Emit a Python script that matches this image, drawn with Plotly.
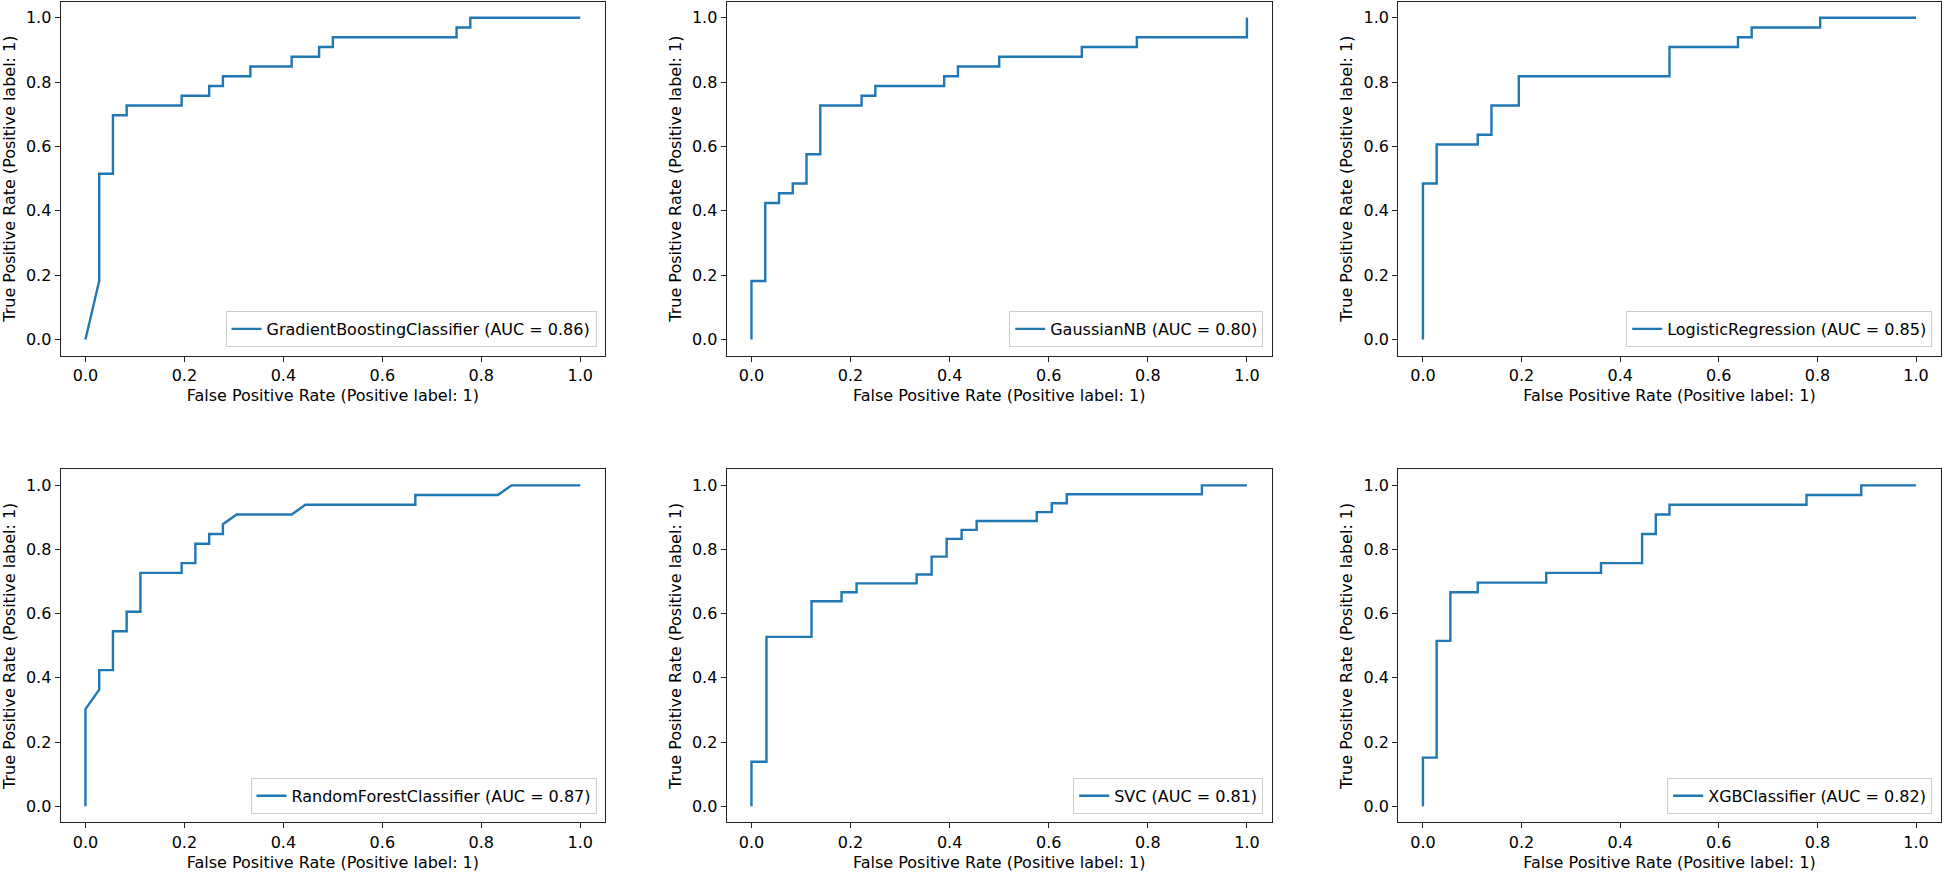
import plotly.graph_objects as go

# ---- data ----
model_names = ["GradientBoostingClassifier", "GaussianNB", "LogisticRegression",
               "RandomForestClassifier", "SVC", "XGBClassifier"]
auc_values = ["0.86", "0.80", "0.85", "0.87", "0.81", "0.82"]

gb_fpr = [0.0, 0.0278, 0.0278, 0.0556, 0.0556, 0.0833, 0.0833, 0.1944, 0.1944, 0.25, 0.25,
          0.2778, 0.2778, 0.3333, 0.3333, 0.4167, 0.4167, 0.4722, 0.4722, 0.5, 0.5,
          0.75, 0.75, 0.7778, 0.7778, 1.0]
gb_tpr = [0.0, 0.1818, 0.5152, 0.5152, 0.6970, 0.6970, 0.7273, 0.7273, 0.7576, 0.7576, 0.7879,
          0.7879, 0.8182, 0.8182, 0.8485, 0.8485, 0.8788, 0.8788, 0.9091, 0.9091, 0.9394,
          0.9394, 0.9697, 0.9697, 1.0, 1.0]

nb_fpr = [0.0, 0.0, 0.0278, 0.0278, 0.0556, 0.0556, 0.0833, 0.0833, 0.1111, 0.1111, 0.1389,
          0.1389, 0.2222, 0.2222, 0.25, 0.25, 0.3889, 0.3889, 0.4167, 0.4167, 0.5, 0.5,
          0.6667, 0.6667, 0.7778, 0.7778, 1.0, 1.0]
nb_tpr = [0.0, 0.1818, 0.1818, 0.4242, 0.4242, 0.4545, 0.4545, 0.4848, 0.4848, 0.5758, 0.5758,
          0.7273, 0.7273, 0.7576, 0.7576, 0.7879, 0.7879, 0.8182, 0.8182, 0.8485, 0.8485,
          0.8788, 0.8788, 0.9091, 0.9091, 0.9394, 0.9394, 1.0]

lr_fpr = [0.0, 0.0, 0.0278, 0.0278, 0.1111, 0.1111, 0.1389, 0.1389, 0.1944, 0.1944, 0.5, 0.5,
          0.6389, 0.6389, 0.6667, 0.6667, 0.8056, 0.8056, 1.0]
lr_tpr = [0.0, 0.4848, 0.4848, 0.6061, 0.6061, 0.6364, 0.6364, 0.7273, 0.7273, 0.8182, 0.8182,
          0.9091, 0.9091, 0.9394, 0.9394, 0.9697, 0.9697, 1.0, 1.0]

rf_fpr = [0.0, 0.0, 0.0278, 0.0278, 0.0556, 0.0556, 0.0833, 0.0833, 0.1111, 0.1111, 0.1944,
          0.1944, 0.2222, 0.2222, 0.25, 0.25, 0.2778, 0.2778, 0.3056, 0.4167, 0.4444, 0.6667,
          0.6667, 0.8333, 0.8611, 1.0]
rf_tpr = [0.0, 0.3030, 0.3636, 0.4242, 0.4242, 0.5455, 0.5455, 0.6061, 0.6061, 0.7273, 0.7273,
          0.7576, 0.7576, 0.8182, 0.8182, 0.8485, 0.8485, 0.8788, 0.9091, 0.9091, 0.9394, 0.9394,
          0.9697, 0.9697, 1.0, 1.0]

svc_fpr = [0.0, 0.0, 0.0303, 0.0303, 0.1212, 0.1212, 0.1818, 0.1818, 0.2121, 0.2121, 0.3333,
           0.3333, 0.3636, 0.3636, 0.3939, 0.3939, 0.4242, 0.4242, 0.4545, 0.4545, 0.5758,
           0.5758, 0.6061, 0.6061, 0.6364, 0.6364, 0.9091, 0.9091, 1.0]
svc_tpr = [0.0, 0.1389, 0.1389, 0.5278, 0.5278, 0.6389, 0.6389, 0.6667, 0.6667, 0.6944, 0.6944,
           0.7222, 0.7222, 0.7778, 0.7778, 0.8333, 0.8333, 0.8611, 0.8611, 0.8889, 0.8889,
           0.9167, 0.9167, 0.9444, 0.9444, 0.9722, 0.9722, 1.0, 1.0]

xgb_fpr = [0.0, 0.0, 0.0278, 0.0278, 0.0556, 0.0556, 0.1111, 0.1111, 0.25, 0.25, 0.3611, 0.3611,
           0.4444, 0.4444, 0.4722, 0.4722, 0.5, 0.5, 0.7778, 0.7778, 0.8889, 0.8889, 1.0]
xgb_tpr = [0.0, 0.1515, 0.1515, 0.5152, 0.5152, 0.6667, 0.6667, 0.6970, 0.6970, 0.7273, 0.7273,
           0.7576, 0.7576, 0.8485, 0.8485, 0.9091, 0.9091, 0.9394, 0.9394, 0.9697, 0.9697, 1.0, 1.0]

fpr_list = [gb_fpr, nb_fpr, lr_fpr, rf_fpr, svc_fpr, xgb_fpr]
tpr_list = [gb_tpr, nb_tpr, lr_tpr, rf_tpr, svc_tpr, xgb_tpr]

tick_vals = [0.0, 0.2, 0.4, 0.6, 0.8, 1.0]
x_title = "False Positive Rate (Positive label: 1)"
y_title = "True Positive Rate (Positive label: 1)"

# ---- layout geometry (pixels) ----
W, H = 1944, 873
col_px = [(60.7, 605.0), (726.7, 1271.7), (1398.3, 1940.7)]
row_px = [(1.7, 355.5), (469.3, 822.3)]

FONT = "DejaVu Sans"
BLUE = "#1f77b4"

fig = go.Figure()
layout = dict(
    width=W, height=H,
    margin=dict(l=0, r=0, t=0, b=0),
    paper_bgcolor="white", plot_bgcolor="white",
    font=dict(family=FONT, size=16, color="black"),
    showlegend=True,
)

for i in range(6):
    r, c = divmod(i, 3)
    x0, x1 = col_px[c]
    y0, y1 = row_px[r]
    idx = "" if i == 0 else str(i + 1)
    xa, ya = "x" + idx, "y" + idx
    leg = "legend" + idx
    fig.add_trace(go.Scatter(
        x=fpr_list[i], y=tpr_list[i], mode="lines",
        line=dict(color=BLUE, width=2.4),
        name=f"{model_names[i]} (AUC = {auc_values[i]})",
        xaxis=xa, yaxis=ya, legend=leg, showlegend=True,
        hoverinfo="skip",
    ))
    common = dict(
        range=[-0.05, 1.05], tickvals=tick_vals, tickformat=".1f",
        showgrid=False, zeroline=False,
        showline=True, linecolor="#222222", linewidth=1.2, mirror=True,
        ticks="outside", ticklen=5, tickwidth=1.2, tickcolor="#222222",
        tickfont=dict(family=FONT, size=16, color="black"),
        fixedrange=True,
    )
    layout["xaxis" + idx] = dict(
        common, domain=[x0 / W, x1 / W], anchor=ya,
        title=dict(text=x_title, font=dict(family=FONT, size=16, color="black"), standoff=6),
    )
    layout["yaxis" + idx] = dict(
        common, domain=[1 - y1 / H, 1 - y0 / H], anchor=xa,
        title=dict(text=y_title, font=dict(family=FONT, size=16, color="black"), standoff=6),
    )
    layout[leg] = dict(
        x=(x1 - 8.5) / W, y=1 - (y1 - 8.5) / H, xanchor="right", yanchor="bottom",
        xref="paper", yref="paper",
        bgcolor="rgba(255,255,255,0.8)", bordercolor="#cccccc", borderwidth=1,
        font=dict(family=FONT, size=16, color="black"),
        itemwidth=30,
    )

fig.update_layout(**layout)
fig.write_html(
    "out.html",
    config={"displayModeBar": False},
    post_script="document.body.style.margin='0';document.body.style.padding='0';"
                "document.body.style.overflow='hidden';",
)
